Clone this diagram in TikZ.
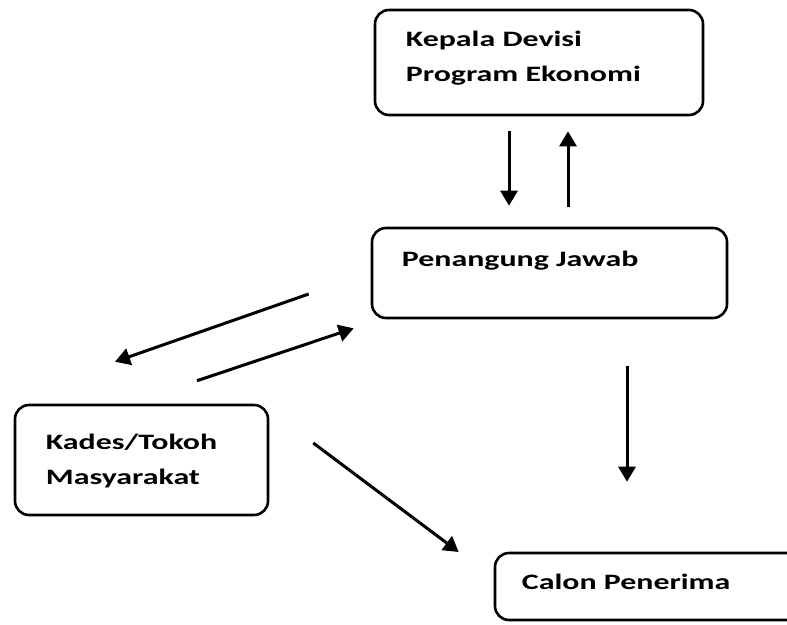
\documentclass[tikz,border=0pt]{standalone}
\usepackage{fontspec}
\setmainfont{Carlito}[FakeStretch=1.45]
\usepackage{tikz}
\usetikzlibrary{arrows.meta,positioning}
\tikzset{
  orgbox/.style={rectangle,rounded corners=14pt,draw=black,line width=2.6pt,
    fill=none},
  orglabel/.style={inner sep=0pt,align=left,font=\fontsize{22}{35}\selectfont\bfseries},
  orgarrow/.style={-{Triangle[width=17pt,length=15pt]},line width=3pt,color=black},
}

\begin{document}
\begin{tikzpicture}[x=1pt,y=-1pt]
\useasboundingbox (0,0) rectangle (787,624);

% -- boxes ----------------------------------------------------------------
\node[orgbox, minimum width=328pt, minimum height=105pt] (kepala) at (539,62.5) {};
\node[orgbox, minimum width=355pt, minimum height=90pt]  (pj)     at (549.5,273) {};
\node[orgbox, minimum width=253pt, minimum height=110pt] (kades)  at (141.5,460) {};
\node[orgbox, minimum width=345pt, minimum height=67pt]  (calon)  at (667.5,586.5) {};

% -- texts in the boxes ---------------------------------------------------
\node[orglabel, below right=22pt and 32pt of kepala.north west, anchor=north west] (kepalatxt)
  {Kepala Devisi\\Program Ekonomi};
\node[orglabel, below right=24pt and 31pt of pj.north west, anchor=north west] (pjtxt)
  {Penangung Jawab};
\node[orglabel, below right=30pt and 32pt of kades.north west, anchor=north west] (kadestxt)
  {Kades/Tokoh\\Masyarakat};
\node[orglabel, below right=22pt and 28pt of calon.north west, anchor=north west] (calontxt)
  {Calon Penerima};

% -- arrows ---------------------------------------------------------------
\draw[orgarrow, shorten <=15pt, shorten >=21pt]
  ([xshift=-30pt]kepala.south) -- ([xshift=-30pt]kepala.south |- pj.north);
\draw[orgarrow, shorten <=20pt, shorten >=15pt]
  ([xshift=29pt]kepala.south |- pj.north) -- ([xshift=29pt]kepala.south);
\draw[orgarrow] ([xshift=-62pt,yshift=-21pt]pj.west) -- ([xshift=-26.5pt,yshift=42pt]kades.north);
\draw[orgarrow] ([xshift=55.5pt,yshift=23pt]kades.north) -- ([xshift=-17pt,yshift=-9pt]pj.south west);
\draw[orgarrow, shorten <=47pt, shorten >=70pt]
  ([xshift=77.5pt]pj.south) -- ([xshift=77.5pt]pj.south |- calon.north);
\draw[orgarrow] ([xshift=44pt,yshift=17pt]kades.east) -- ([xshift=-35pt,yshift=34.5pt]calon.west);

\end{tikzpicture}
\end{document}
